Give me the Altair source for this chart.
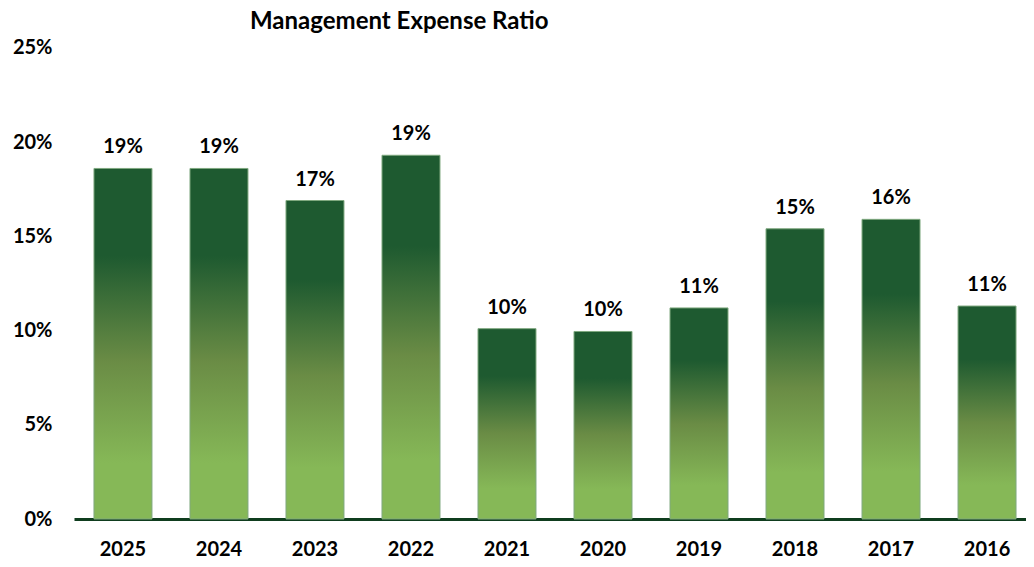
import altair as alt
import pandas as pd

years = ["2025", "2024", "2023", "2022", "2021", "2020", "2019", "2018", "2017", "2016"]
ratios = [18.6, 18.6, 16.9, 19.3, 10.1, 9.95, 11.2, 15.4, 15.9, 11.3]

df = pd.DataFrame({"year": years, "ratio": ratios})
df["label"] = [f"{round(v):.0f}%" for v in ratios]

FONT = "Lato"

grad = alt.Gradient(
    gradient="linear",
    stops=[
        alt.GradientStop(color="#1e5a30", offset=0),
        alt.GradientStop(color="#1e5a30", offset=0.25),
        alt.GradientStop(color="#6a8c45", offset=0.55),
        alt.GradientStop(color="#86b857", offset=0.84),
        alt.GradientStop(color="#86b857", offset=1),
    ],
    x1=0, x2=0, y1=0, y2=1,
)

x = alt.X(
    "year:N",
    sort=years,
    title=None,
    scale=alt.Scale(paddingInner=0.396, paddingOuter=0.156, align=0.667),
    axis=alt.Axis(
        labelAngle=0,
        labelFont=FONT,
        labelFontSize=20,
        labelFontWeight="bold",
        labelColor="#000000",
        labelPadding=20,
        ticks=False,
        domainColor="#0f3d1e",
        domainWidth=3,
    ),
)
y = alt.Y(
    "ratio:Q",
    title=None,
    scale=alt.Scale(domain=[0, 25]),
    axis=alt.Axis(
        values=[0, 5, 10, 15, 20, 25],
        labelExpr="datum.value + '%'",
        labelFont=FONT,
        labelFontSize=20,
        labelFontWeight="bold",
        labelColor="#000000",
        labelPadding=22,
        ticks=False,
        domain=False,
        grid=False,
    ),
)

bars = alt.Chart(df).mark_bar(color=grad, stroke="#7fa87f", strokeWidth=1).encode(x=x, y=y)
text = alt.Chart(df).mark_text(
    dy=-21, font=FONT, fontSize=20, fontWeight="bold", color="#000000", baseline="middle"
).encode(x=alt.X("year:N", sort=years), y="ratio:Q", text="label:N")

chart = (
    alt.layer(bars, text)
    .properties(
        width=1018,
        height=551,
        autosize=alt.AutoSizeParams(type="fit", contains="padding"),
        padding={"left": 4, "top": 2, "right": 0, "bottom": 0},
        title=alt.TitleParams(
            "Management Expense Ratio",
            anchor="start",
            frame="group",
            dx=176,
            offset=-5,
            font=FONT,
            fontSize=24,
            fontWeight="bold",
            color="#000000",
        ),
    )
    .configure_view(stroke=None)
)

chart.save("out.html", embed_options={"renderer": "svg", "actions": False})
